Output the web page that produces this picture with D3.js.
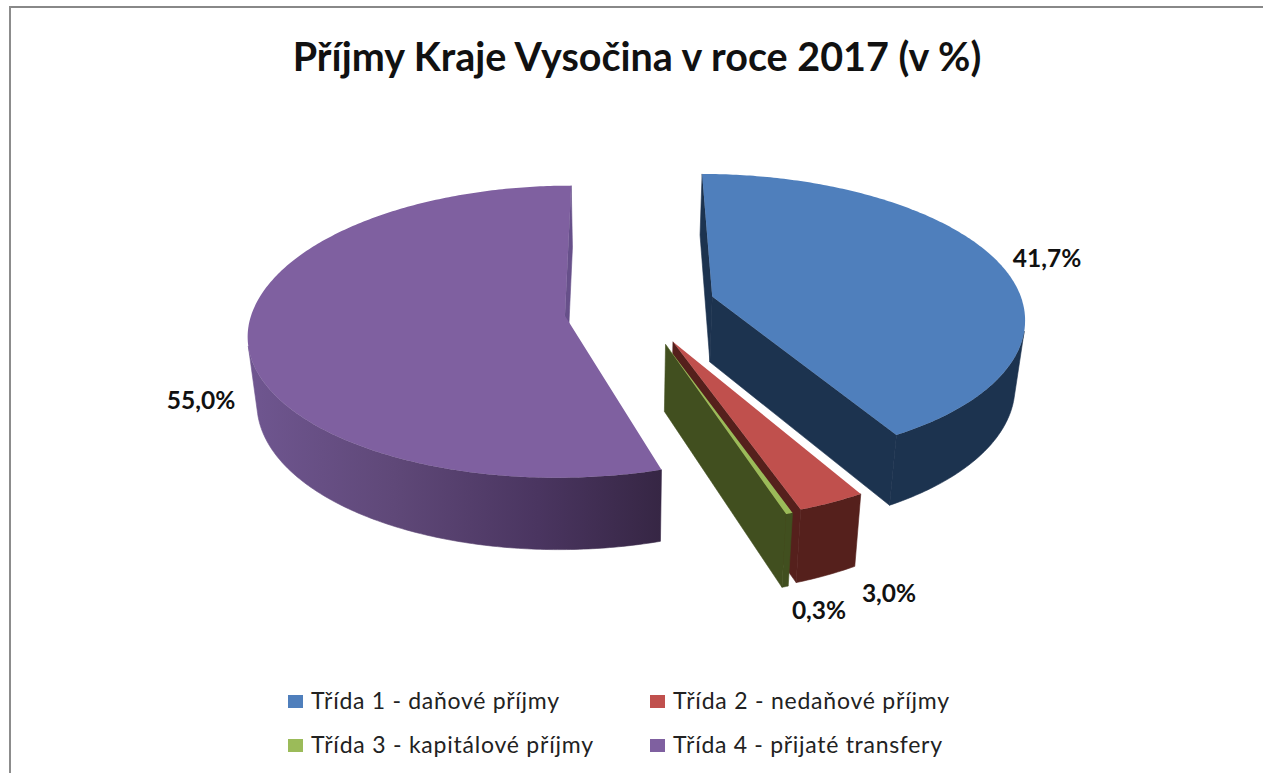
<!DOCTYPE html>
<html><head><meta charset="utf-8">
<style>html,body{margin:0;padding:0;background:#fff}svg{display:block}</style>
<script src="https://cdn.jsdelivr.net/npm/d3@7"></script>
</head><body><svg id="c" width="1263" height="773"></svg>
<script>
const titleText = "Příjmy Kraje Vysočina v roce 2017 (v %)";
const categories = ["Třída 1 - daňové příjmy","Třída 2 - nedaňové příjmy","Třída 3 - kapitálové příjmy","Třída 4 - přijaté transfery"];
const shares = [41.7,3.0,0.3,55.0];
const shareLabels = ["41,7%","3,0%","0,3%","55,0%"];
const topColors = ["#4f7fbc","#c0504d","#9bbb59","#7f60a0"];
const wallColors = ["#1c334f","#55201c","#414f1f","url(#pw)"];

// 3D projection of the exploded pie
const R=311, EXPL=75.5, CX=640, VX=620, VY=205.3, H=100, TILT=0.41, K=0.0004, SHRINK=0.025, DEPTH=70;
const yNudge=[0,4,5,4.5];            // per-slice screen drop of the exploded slice
const radialFront=[1.03,1.04,1.04,0.995]; // foreshortening correction, near half
const radialBack=[1,1,1,1.03];       // foreshortening correction, far half
const startShift=[0,0,0,0.018];
function project(X,Y,Z){
  const s=1/(1-K*Y)*(1-SHRINK*Z/DEPTH);
  return [VX+(X+CX-VX)*s, VY+(H+Y*TILT+Z)*s];
}
const slices=d3.pie().sort(null).value(d=>d)(shares).map((p,i)=>{
  const mid=(p.startAngle+p.endAngle)/2;
  return {i,a0:p.startAngle+startShift[i],a1:p.endAngle,ox:EXPL*Math.sin(mid),oy:-EXPL*Math.cos(mid)+yNudge[i]/TILT};
});
const apex=(s,z)=>project(s.ox,s.oy,z);
const rim=(s,a,z)=>{
  const c=Math.cos(a);
  return project(s.ox+R*Math.sin(a),s.oy-R*(c<0?radialFront[s.i]:radialBack[s.i])*c,z);
};
const area=pts=>d3.polygonArea(pts);

const svg=d3.select("#c");
const g0=svg.append("defs").append("linearGradient").attr("id","pw").attr("gradientUnits","userSpaceOnUse")
  .attr("x1",250).attr("x2",662).attr("y1",0).attr("y2",0);
[[0,"#6f5690"],[0.35,"#5f4878"],[0.7,"#4a3560"],[1,"#362644"]].forEach(d=>g0.append("stop").attr("offset",d[0]).attr("stop-color",d[1]));

// frame
svg.append("line").attr("x1",9).attr("x2",1263).attr("y1",7).attr("y2",7).attr("stroke","#888").attr("stroke-width",2);
svg.append("line").attr("x1",10).attr("x2",10).attr("y1",6).attr("y2",773).attr("stroke","#8c8c8c").attr("stroke-width",2);

const line=d3.line();
const order=[3,0,1,2];
order.forEach(i=>{
  const s=slices[i];
  const g=svg.append("g");
  const n=Math.max(12,Math.ceil((s.a1-s.a0)*80));
  const ang=d3.range(n+1).map(j=>s.a0+(s.a1-s.a0)*j/n);
  [[s.a0,1],[s.a1,-1]].forEach(([a,dir])=>{
    const q=[apex(s,0),rim(s,a,0),rim(s,a,DEPTH),apex(s,DEPTH)];
    if(area(q)*dir>0){
      const col=i===3?"#67508a":wallColors[i];
      g.append("path").attr("d",line(q)+"Z").attr("fill",col).attr("stroke",col).attr("stroke-width",0.6);
    }
  });
  let run=[];
  const flush=()=>{
    if(run.length>1){
      const topA=run.map(a=>rim(s,a,0)), botA=run.map(a=>rim(s,a,DEPTH)).reverse();
      g.append("path").attr("d",line(topA.concat(botA))+"Z").attr("fill",wallColors[i]).attr("stroke",wallColors[i]).attr("stroke-width",0.6);
    }
    run=[];
  };
  ang.forEach((a,j)=>{
    if(j===n){return;}
    const b=ang[j+1];
    const q=[rim(s,a,0),rim(s,b,0),rim(s,b,DEPTH),rim(s,a,DEPTH)];
    if(area(q)>0){ if(!run.length)run.push(a); run.push(b);} else flush();
  });
  flush();
  const top=[apex(s,0)].concat(ang.map(a=>rim(s,a,0)));
  g.append("path").attr("d",line(top)+"Z").attr("fill",topColors[i]);
});

// title
svg.append("text").attr("x",637).attr("y",71).attr("text-anchor","middle")
  .attr("font-family","Lato").attr("font-weight",700).attr("font-size",39.5).attr("fill","#111").text(titleText);

// value labels
const labelPos=[[1047,267],[889,602],[819,619],[201,409]];
svg.selectAll("text.v").data(shareLabels).join("text").attr("class","v")
  .attr("x",(d,i)=>labelPos[i][0]).attr("y",(d,i)=>labelPos[i][1]).attr("text-anchor","middle")
  .attr("font-family","Lato").attr("font-weight",700).attr("font-size",24.5).attr("fill","#111").text(d=>d);

// legend
const legendPos=[[288,695],[650,695],[288,739],[650,739]];
const legendWidths=[248,276,282,269];
const lg=svg.selectAll("g.l").data(categories).join("g").attr("class","l")
  .attr("transform",(d,i)=>`translate(${legendPos[i][0]},${legendPos[i][1]})`);
lg.append("rect").attr("x",0).attr("y",0).attr("width",15).attr("height",13).attr("fill",(d,i)=>topColors[i]);
lg.append("text").attr("x",23).attr("y",14).attr("font-family","Lato").attr("font-size",23).attr("fill","#222")
  .attr("textLength",(d,i)=>legendWidths[i]).attr("lengthAdjust","spacing").text(d=>d);
</script></body></html>
